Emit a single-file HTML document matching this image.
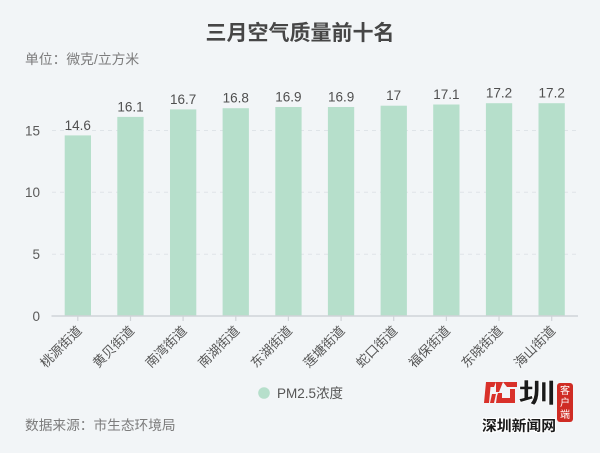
<!DOCTYPE html>
<html><head><meta charset="utf-8"><style>
html,body{margin:0;padding:0;background:#f2f5f7;}
svg{display:block;}
text{font-family:"Liberation Sans","Noto Sans CJK SC",sans-serif;}
</style></head><body>
<svg width="600" height="453" viewBox="0 0 600 453" xmlns="http://www.w3.org/2000/svg">
<rect width="600" height="453" fill="#f2f5f7"/>
<text x="300" y="40" text-anchor="middle" font-size="21" font-weight="bold" fill="#464646">三月空气质量前十名</text>
<text x="25" y="64" font-size="13.8" fill="#7c7c7c">单位：微克/立方米</text>

<!-- grid lines -->
<g stroke="#dfe4e8" stroke-width="1" stroke-dasharray="4,4">
<line x1="52" y1="130.5" x2="578" y2="130.5"/>
<line x1="52" y1="192.3" x2="578" y2="192.3"/>
<line x1="52" y1="254.2" x2="578" y2="254.2"/>
</g>
<!-- y labels -->
<g font-size="13.5" fill="#5a5a5a" text-anchor="end">
<text x="40" y="135.4">15</text>
<text x="40" y="197.2">10</text>
<text x="40" y="259.1">5</text>
<text x="40" y="320.9">0</text>
</g>

<!-- bars -->
<g fill="#b6dfcb">
<rect x="64.7" y="135.4" width="26.3" height="180.6"/>
<rect x="117.3" y="116.9" width="26.3" height="199.1"/>
<rect x="170" y="109.4" width="26.3" height="206.6"/>
<rect x="222.6" y="108.2" width="26.3" height="207.8"/>
<rect x="275.3" y="107" width="26.3" height="209"/>
<rect x="327.9" y="107" width="26.3" height="209"/>
<rect x="380.6" y="105.7" width="26.3" height="210.3"/>
<rect x="433.2" y="104.5" width="26.3" height="211.5"/>
<rect x="485.9" y="103.2" width="26.3" height="212.8"/>
<rect x="538.5" y="103.2" width="26.3" height="212.8"/>
</g>
<!-- value labels -->
<g font-size="13.5" fill="#4f4f4f" text-anchor="middle">
<text x="77.8" y="129.9">14.6</text>
<text x="130.5" y="111.4">16.1</text>
<text x="183.1" y="103.9">16.7</text>
<text x="235.8" y="102.7">16.8</text>
<text x="288.4" y="101.5">16.9</text>
<text x="341.1" y="101.5">16.9</text>
<text x="393.7" y="100.2">17</text>
<text x="446.4" y="99">17.1</text>
<text x="499" y="97.7">17.2</text>
<text x="551.7" y="97.7">17.2</text>
</g>

<!-- axis -->
<line x1="51.5" y1="316" x2="578" y2="316" stroke="#d0d4d8" stroke-width="1.5"/>
<g stroke="#d0d4d8" stroke-width="1.2">
<line x1="77.8" y1="316" x2="77.8" y2="321"/>
<line x1="130.5" y1="316" x2="130.5" y2="321"/>
<line x1="183.1" y1="316" x2="183.1" y2="321"/>
<line x1="235.8" y1="316" x2="235.8" y2="321"/>
<line x1="288.4" y1="316" x2="288.4" y2="321"/>
<line x1="341.1" y1="316" x2="341.1" y2="321"/>
<line x1="393.7" y1="316" x2="393.7" y2="321"/>
<line x1="446.4" y1="316" x2="446.4" y2="321"/>
<line x1="499" y1="316" x2="499" y2="321"/>
<line x1="551.7" y1="316" x2="551.7" y2="321"/>
</g>
<!-- category labels -->
<g font-size="13" fill="#555" text-anchor="end">
<text transform="translate(79,328) rotate(-45)" x="0" y="5">桃源街道</text>
<text transform="translate(131.5,328) rotate(-45)" x="0" y="5">黄贝街道</text>
<text transform="translate(184.1,328) rotate(-45)" x="0" y="5">南湾街道</text>
<text transform="translate(236.8,328) rotate(-45)" x="0" y="5">南湖街道</text>
<text transform="translate(289.4,328) rotate(-45)" x="0" y="5">东湖街道</text>
<text transform="translate(342.1,328) rotate(-45)" x="0" y="5">莲塘街道</text>
<text transform="translate(394.7,328) rotate(-45)" x="0" y="5">蛇口街道</text>
<text transform="translate(447.4,328) rotate(-45)" x="0" y="5">福保街道</text>
<text transform="translate(500,328) rotate(-45)" x="0" y="5">东晓街道</text>
<text transform="translate(552.7,328) rotate(-45)" x="0" y="5">海山街道</text>
</g>

<!-- legend -->
<circle cx="264" cy="393" r="5.8" fill="#b6dfcb"/>
<text x="277" y="398" font-size="13.5" fill="#555">PM2.5浓度</text>

<!-- source -->
<text x="25" y="430" font-size="13.7" fill="#7c7c7c">数据来源：市生态环境局</text>

<!-- logo -->
<g>
<path d="M496 382 L486 382 L484 403 L489 403 L490.5 387 L494 387 Z" fill="#d9312a"/>
<path d="M496 382 L503 382 L499 392 L496 392 Z" fill="#d9312a"/>
<path d="M503 382 L517 382 L517 387 L507 387 Z" fill="#d9312a"/>
<path d="M498 393 L502 393 L502 398 L510 398 L510 389 L515 389 L515 403 L496 403 L497 396 Z" fill="#d9312a"/>
<path d="M492 394 L496 394 L494 403 L490 403 Z" fill="#d9312a"/>
<text x="537" y="403" text-anchor="middle" font-size="27" font-weight="bold" fill="#1a1a1a" stroke="#fff" stroke-width="0.6" textLength="38" lengthAdjust="spacingAndGlyphs">圳</text>
<text x="519" y="431" text-anchor="middle" font-size="14.5" font-weight="bold" fill="#1a1a1a" stroke="#fff" stroke-width="2.2" paint-order="stroke" textLength="74" lengthAdjust="spacingAndGlyphs">深圳新闻网</text>
<rect x="557" y="383" width="16" height="39" rx="3" fill="#cf2c24"/>
<g font-size="10" fill="#fff" text-anchor="middle" font-family="Noto Serif CJK SC, serif">
<text x="565" y="394">客</text>
<text x="565" y="406">户</text>
<text x="565" y="418">端</text>
</g>
</g>
</svg>
</body></html>
